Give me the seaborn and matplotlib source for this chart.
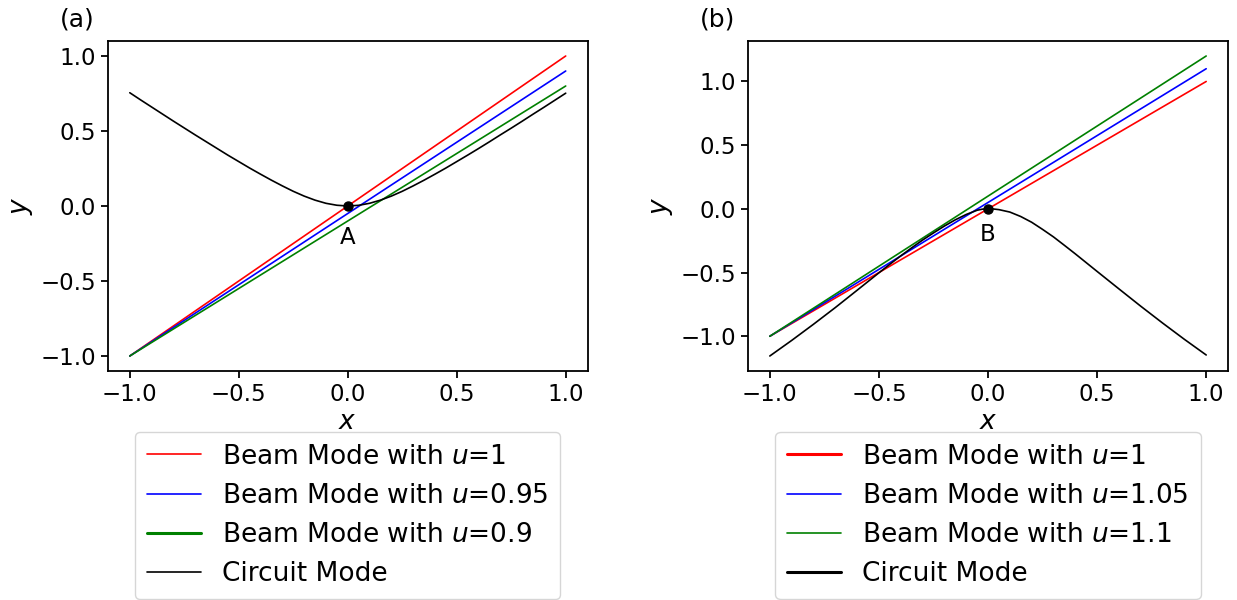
import numpy as np
import pandas as pd
import matplotlib
matplotlib.use("Agg")
import matplotlib.pyplot as plt
from matplotlib.lines import Line2D
import seaborn as sns

# ---------------- data ----------------
# Panel (a)
beam_x_a = [-1.0, 1.0]
beam_u1_a = [-1.0, 1.0]
beam_u095_a = [-1.0, 0.9]
beam_u09_a = [-1.0, 0.8]

circuit_x_a = [-1.0, -0.95, -0.9, -0.85, -0.8, -0.75, -0.7, -0.65, -0.6, -0.55, -0.5, -0.45,
               -0.4, -0.35, -0.3, -0.25, -0.2, -0.15, -0.1, -0.05, 0.0,
               0.05, 0.1, 0.15, 0.2, 0.25, 0.3, 0.35, 0.4, 0.45, 0.5, 0.55, 0.6, 0.65,
               0.7, 0.75, 0.8, 0.85, 0.9, 0.95, 1.0]
circuit_y_a = [0.755, 0.707, 0.660, 0.613, 0.566, 0.520, 0.474, 0.429, 0.384, 0.339, 0.296, 0.253,
               0.212, 0.172, 0.134, 0.098, 0.066, 0.039, 0.018, 0.005, 0.0,
               0.0046, 0.018, 0.039, 0.066, 0.098, 0.134, 0.172, 0.212, 0.253, 0.296, 0.339,
               0.383, 0.428, 0.474, 0.519, 0.565, 0.612, 0.658, 0.705, 0.752]

# Panel (b)
beam_x_b = [-1.0, 1.0]
beam_u1_b = [-1.0, 1.0]
beam_u105_b = [-1.0, 1.1]
beam_u11_b = [-1.0, 1.2]

circuit_x_b = [-1.0, -0.9, -0.8, -0.7, -0.6, -0.5, -0.45, -0.4, -0.35, -0.3, -0.25, -0.2,
               -0.15, -0.1, -0.05, -0.025, 0.0, 0.025, 0.05, 0.1, 0.15, 0.2, 0.25, 0.3, 0.35,
               0.4, 0.45, 0.5, 0.6, 0.7, 0.8, 0.9, 1.0]
circuit_y_b = [-1.155, -1.033, -0.906, -0.775, -0.639, -0.502, -0.435, -0.369, -0.306, -0.245,
               -0.189, -0.135, -0.086, -0.044, -0.011, -0.002, 0.0, -0.001, -0.006, -0.025,
               -0.060, -0.105, -0.161, -0.220, -0.286, -0.353, -0.422, -0.491, -0.628, -0.764,
               -0.896, -1.024, -1.147]

labels_a = ["Beam Mode with $u$=1", "Beam Mode with $u$=0.95", "Beam Mode with $u$=0.9", "Circuit Mode"]
labels_b = ["Beam Mode with $u$=1", "Beam Mode with $u$=1.05", "Beam Mode with $u$=1.1", "Circuit Mode"]
point_labels = ["A", "B"]
panel_titles = ["(a)", "(b)"]

# ---------------- style ----------------
sns.set_style("ticks")
plt.rcParams["font.family"] = ["DejaVu Sans"]
plt.rcParams["mathtext.fontset"] = "dejavusans"
plt.rcParams["axes.linewidth"] = 1.3
plt.rcParams["xtick.major.width"] = 1.3
plt.rcParams["ytick.major.width"] = 1.3
plt.rcParams["xtick.major.size"] = 5
plt.rcParams["ytick.major.size"] = 5
plt.rcParams["axes.edgecolor"] = "black"
plt.rcParams["xtick.color"] = "black"
plt.rcParams["ytick.color"] = "black"
plt.rcParams["text.color"] = "black"
plt.rcParams["axes.labelcolor"] = "black"

fig = plt.figure(figsize=(12.37, 6.0), dpi=100)
ax1 = fig.add_axes([108 / 1237, 229 / 600, 479.5 / 1237, 330 / 600])
ax2 = fig.add_axes([748 / 1237, 229 / 600, 480 / 1237, 330 / 600])

LW = 1.2
TICK_FS = 16.5
LEG_FS = 19

def draw_panel(ax, bx, beams, colors, cx, cy, plabel, title, labels, leg_widths):
    for yv, c in zip(beams, colors):
        sns.lineplot(x=bx, y=yv, ax=ax, color=c, lw=LW, sort=False, estimator=None)
    sns.lineplot(x=cx, y=cy, ax=ax, color="black", lw=LW, sort=False, estimator=None)
    ax.plot([0], [0], "o", color="black", ms=6.5)
    ax.text(0, -0.25, plabel, ha="center", va="baseline", fontsize=TICK_FS)
    ax.set_xlabel("$x$", fontsize=LEG_FS, labelpad=2)
    ax.set_ylabel("$y$", fontsize=LEG_FS, labelpad=4)
    ax.tick_params(labelsize=TICK_FS)
    ax.text(-0.1, 1.045, title, transform=ax.transAxes, fontsize=18, ha="left", va="baseline")
    handles = [Line2D([], [], color=c, lw=w) for c, w in zip(colors + ["black"], leg_widths)]
    ax.legend(handles, labels, loc="upper center", bbox_to_anchor=(0.5, -0.144),
              fontsize=LEG_FS, frameon=True, fancybox=True, edgecolor="0.8",
              labelspacing=0.5, handlelength=2.05, borderpad=0.45)

draw_panel(ax1, beam_x_a, [beam_u1_a, beam_u095_a, beam_u09_a], ["red", "blue", "green"],
           circuit_x_a, circuit_y_a, point_labels[0], panel_titles[0], labels_a,
           [1.2, 1.2, 2.2, 1.2])
draw_panel(ax2, beam_x_b, [beam_u1_b, beam_u105_b, beam_u11_b], ["red", "blue", "green"],
           circuit_x_b, circuit_y_b, point_labels[1], panel_titles[1], labels_b,
           [2.2, 1.2, 1.2, 2.2])

fig.savefig("out.png", dpi=100)
